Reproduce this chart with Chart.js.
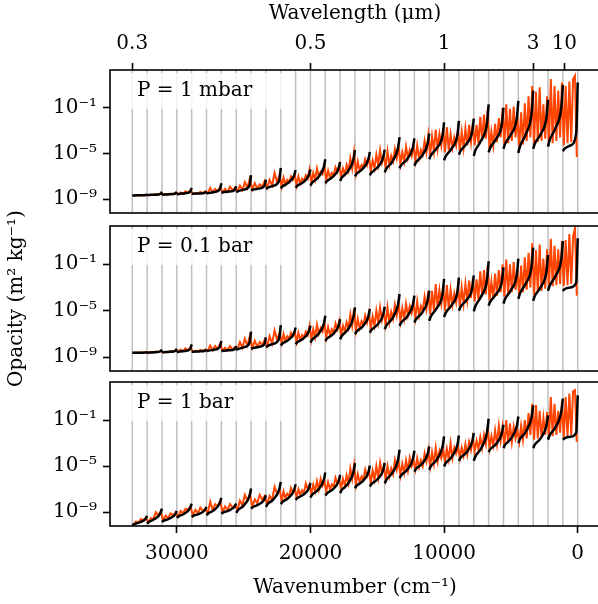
<!DOCTYPE html>
<html>
<head>
<meta charset="utf-8">
<script src="https://cdn.jsdelivr.net/npm/chart.js@4.4.1/dist/chart.umd.min.js"></script>
<style>
  html, body { margin: 0; padding: 0; background: #fff; overflow: hidden; }
  #wrap { position: relative; width: 598px; height: 604px; overflow: hidden; }
  canvas { position: absolute; left: 0; }
</style>
</head>
<body>
<div id="wrap">
  <canvas id="p1" width="602" height="220" style="top:0"></canvas>
  <canvas id="p3" width="602" height="228" style="top:376px"></canvas>
  <canvas id="p2" width="602" height="400" style="top:100px"></canvas>
</div>
<script>
// bin edges in wavenumber (cm-1), 30 bins from 0 to 1e4/0.3
const BIN_EDGES = [0, 1111, 2222, 3333, 4444, 5556, 6667, 7778, 8889, 10000,
  11111, 12222, 13333, 14444, 15556, 16667, 17778, 18889, 20000, 21111,
  22222, 23333, 24444, 25556, 26667, 27778, 28889, 30000, 31111, 32222, 33333];

// cumulative probability points of the k-curves inside each bin
const G_POINTS = [0, 0.1, 0.5, 0.9, 1];

// log10 opacity of k-curves, one row per bin, left (33333) to right (0)
const K_1MBAR = [
  [-8.66, -8.66, -8.65, -8.63, -8.58], [-8.64, -8.63, -8.6, -8.52, -8.34],
  [-8.6, -8.59, -8.56, -8.5, -8.34], [-8.58, -8.55, -8.49, -8.35, -8.0],
  [-8.52, -8.51, -8.49, -8.43, -8.3], [-8.5, -8.46, -8.37, -8.14, -7.6],
  [-8.42, -8.39, -8.33, -8.19, -7.85], [-8.38, -8.31, -8.16, -7.79, -6.9],
  [-8.2, -8.16, -8.07, -7.84, -7.3], [-8.1, -8.01, -7.82, -7.36, -6.25],
  [-8.05, -7.89, -7.57, -6.93, -6.45], [-8.0, -7.84, -7.52, -6.88, -6.4],
  [-7.8, -7.57, -7.11, -6.19, -5.5], [-7.6, -7.42, -7.05, -6.31, -5.75],
  [-7.4, -7.13, -6.59, -5.51, -4.7], [-7.0, -6.79, -6.36, -5.51, -4.87],
  [-6.9, -6.68, -6.23, -5.33, -4.66], [-6.65, -6.34, -5.73, -4.49, -3.57],
  [-6.3, -6.04, -5.51, -4.47, -3.68], [-6.07, -5.79, -5.22, -4.1, -3.25],
  [-5.5, -5.18, -4.53, -3.41, -2.28], [-5.6, -5.26, -4.57, -3.36, -2.15],
  [-5.1, -4.79, -4.16, -3.05, -1.95], [-5.2, -4.75, -3.85, -2.28, -0.7],
  [-4.9, -4.51, -3.73, -2.37, -1.0], [-4.6, -4.18, -3.34, -1.87, -0.4],
  [-4.95, -4.41, -3.32, -1.41, 0.5], [-4.6, -4.17, -3.31, -1.81, -0.3],
  [-4.4, -3.86, -2.78, -0.89, 1.0], [-4.8, -4.6, -4.3, -3.2, 1.2]
];
const K_01BAR = [
  [-8.63, -8.63, -8.62, -8.61, -8.57], [-8.62, -8.61, -8.58, -8.51, -8.34],
  [-8.6, -8.58, -8.55, -8.47, -8.28], [-8.58, -8.55, -8.48, -8.31, -7.9],
  [-8.54, -8.53, -8.51, -8.46, -8.34], [-8.5, -8.46, -8.37, -8.14, -7.61],
  [-8.48, -8.46, -8.42, -8.31, -8.05], [-8.4, -8.32, -8.16, -7.76, -6.8],
  [-8.28, -8.23, -8.13, -7.89, -7.3], [-8.14, -8.05, -7.86, -7.38, -6.25],
  [-8.0, -7.85, -7.54, -6.92, -6.45], [-7.9, -7.74, -7.42, -6.78, -6.3],
  [-7.76, -7.53, -7.06, -6.14, -5.44], [-7.61, -7.42, -7.05, -6.29, -5.73],
  [-7.47, -7.2, -6.65, -5.55, -4.72], [-7.03, -6.81, -6.38, -5.51, -4.86],
  [-6.89, -6.67, -6.22, -5.33, -4.66], [-6.6, -6.3, -5.69, -4.47, -3.56],
  [-6.31, -6.05, -5.53, -4.48, -3.7], [-6.02, -5.75, -5.2, -4.1, -3.27],
  [-5.88, -5.52, -4.79, -3.52, -2.25], [-5.55, -5.21, -4.53, -3.35, -2.16],
  [-5.0, -4.7, -4.09, -3.02, -1.96], [-5.06, -4.63, -3.76, -2.25, -0.74],
  [-4.57, -4.24, -3.58, -2.43, -1.27], [-4.4, -4.01, -3.23, -1.87, -0.51],
  [-3.99, -3.55, -2.66, -1.11, 0.44], [-4.15, -3.76, -2.97, -1.58, -0.2],
  [-3.3, -2.87, -2.01, -0.5, 1.0], [-3.3, -3.15, -3.0, -2.6, 1.25]
];
const K_1BAR = [
  [-10.14, -10.06, -9.89, -9.57, -9.32], [-9.99, -9.86, -9.6, -9.08, -8.69],
  [-9.85, -9.75, -9.56, -9.18, -8.89], [-9.5, -9.38, -9.13, -8.63, -8.25],
  [-9.41, -9.32, -9.15, -8.8, -8.54], [-9.27, -9.12, -8.82, -8.21, -7.76],
  [-9.12, -9.03, -8.86, -8.51, -8.25], [-9.06, -8.85, -8.43, -7.58, -6.95],
  [-8.69, -8.57, -8.34, -7.88, -7.53], [-8.54, -8.32, -7.89, -7.02, -6.37],
  [-8.3, -8.13, -7.78, -7.09, -6.57], [-7.93, -7.79, -7.5, -6.92, -6.48],
  [-7.73, -7.51, -7.08, -6.2, -5.55], [-7.56, -7.38, -7.02, -6.3, -5.76],
  [-7.35, -7.09, -6.57, -5.52, -4.74], [-6.92, -6.72, -6.33, -5.54, -4.95],
  [-6.77, -6.57, -6.16, -5.35, -4.74], [-6.5, -6.21, -5.62, -4.46, -3.58],
  [-6.05, -5.81, -5.34, -4.38, -3.67], [-5.47, -5.25, -4.82, -3.94, -3.29],
  [-5.32, -5.03, -4.45, -3.29, -2.42], [-5.03, -4.76, -4.22, -3.15, -2.34],
  [-4.54, -4.3, -3.82, -2.85, -2.13], [-4.54, -4.18, -3.45, -1.99, -0.89],
  [-3.79, -3.55, -3.08, -2.12, -1.41], [-3.44, -3.17, -2.62, -1.52, -0.69],
  [-3.0, -2.67, -2.02, -0.71, 0.27], [-3.44, -3.16, -2.59, -1.45, -0.6],
  [-2.71, -2.35, -1.64, -0.22, 0.85], [-2.71, -2.6, -2.45, -2.1, 1.14]
];

// line-by-line opacity, log10, samples spread evenly over each bin, left to right
const LBL_1MBAR = [
  [-8.66, -8.64, -8.66, -8.63, -8.65, -8.62], [-8.64, -8.6, -8.63, -8.55, -8.6, -8.5],
  [-8.6, -8.55, -8.59, -8.5, -8.57, -8.45], [-8.56, -8.4, -8.52, -8.3, -8.45, -8.2],
  [-8.52, -8.45, -8.5, -8.35, -8.48, -8.3], [-8.45, -8.0, -8.4, -8.1, -8.3, -7.9],
  [-8.4, -8.1, -8.35, -7.9, -8.2, -8.0], [-8.3, -7.8, -8.2, -7.5, -8.0, -7.2],
  [-8.15, -7.6, -8.05, -7.7, -7.9, -7.4], [-8.0, -7.3, -7.8, -6.7, -7.5, -6.9],
  [-7.9, -7.1, -7.7, -7.3, -7.5, -7.0, -7.3, -6.8],
  [-7.8, -7.0, -7.6, -7.2, -7.4, -6.9, -7.2, -6.4],
  [-7.5, -6.7, -7.3, -6.3, -7.0, -6.6, -6.8, -6.0],
  [-7.3, -6.5, -7.1, -6.7, -6.9, -6.2, -6.6, -6.0],
  [-7.0, -6.3, -6.8, -6.0, -6.5, -5.4, -6.3, -4.9],
  [-6.7, -5.7, -6.5, -6.0, -6.2, -5.5, -6.0, -5.3],
  [-6.5, -5.6, -6.3, -5.1, -6.0, -4.7, -5.8, -5.2],
  [-6.2, -4.8, -6.0, -5.2, -5.7, -4.6, -5.4, -4.4],
  [-5.9, -4.9, -5.7, -4.4, -5.4, -4.7, -5.2, -4.3],
  [-5.6, -4.3, -5.4, -4.7, -5.1, -3.9, -4.9, -3.4],
  [-5.1, -3.5, -4.8, -2.9, -4.6, -3.3, -4.3, -2.8],
  [-4.9, -2.7, -4.7, -3.3, -4.5, -3.6, -4.3, -2.9],
  [-4.7, -3.1, -4.5, -2.8, -4.3, -2.5, -4.0, -2.3],
  [-4.3, -2.5, -4.1, -1.8, -3.9, -1.6, -3.7, -1.1],
  [-4.6, -3.1, -4.3, -2.4, -4.0, -1.9, -3.6, -1.0],
  [-4.3, -0.7, -4.1, -1.1, -3.9, -0.9, -3.6, -1.8],
  [-4.5, -1.4, -4.2, -0.6, -3.9, 0.0, -3.6, 0.9],
  [-4.2, 0.4, -4.0, 0.8, -3.9, -0.7, -3.7, 0.0],
  [-4.3, 1.5, -4.1, 0.9, -3.9, 0.5, -3.6, 1.2],
  [-4.3, 0.9, -4.1, 1.3, -4.0, 1.5, 1.8, -5.3]
];
const LBL_01BAR = [
  [-8.63, -8.61, -8.63, -8.6, -8.62, -8.59], [-8.62, -8.57, -8.6, -8.52, -8.57, -8.48],
  [-8.6, -8.54, -8.58, -8.48, -8.55, -8.42], [-8.55, -8.35, -8.5, -8.25, -8.42, -8.15],
  [-8.53, -8.45, -8.51, -8.38, -8.48, -8.35], [-8.46, -8.0, -8.4, -8.05, -8.3, -7.85],
  [-8.46, -8.2, -8.4, -8.05, -8.35, -8.15], [-8.3, -7.7, -8.2, -7.4, -8.0, -7.2],
  [-8.2, -7.6, -8.1, -7.7, -7.95, -7.5], [-8.05, -7.2, -7.85, -6.7, -7.5, -6.9],
  [-7.8, -7.0, -7.6, -7.2, -7.4, -6.9, -7.2, -6.8],
  [-7.7, -6.9, -7.5, -7.1, -7.3, -6.8, -7.1, -6.3],
  [-7.5, -6.6, -7.3, -6.2, -7.0, -6.5, -6.8, -6.0],
  [-7.3, -6.4, -7.1, -6.6, -6.9, -6.1, -6.6, -5.9],
  [-7.1, -6.3, -6.8, -6.0, -6.5, -5.3, -6.3, -4.8],
  [-6.7, -5.7, -6.5, -5.9, -6.2, -5.4, -6.0, -5.2],
  [-6.5, -5.5, -6.3, -5.0, -6.0, -4.7, -5.8, -5.1],
  [-6.2, -4.7, -6.0, -5.1, -5.7, -4.5, -5.4, -4.3],
  [-5.9, -4.8, -5.7, -4.4, -5.4, -4.6, -5.2, -4.3],
  [-5.6, -4.2, -5.4, -4.6, -5.0, -3.8, -4.8, -3.3],
  [-5.3, -3.3, -5.0, -2.7, -4.7, -3.2, -4.4, -2.9],
  [-5.0, -2.8, -4.8, -3.2, -4.5, -3.5, -4.3, -2.9],
  [-4.6, -3.0, -4.4, -2.7, -4.1, -2.4, -3.9, -2.2],
  [-4.2, -2.3, -4.0, -1.6, -3.8, -1.5, -3.6, -1.1],
  [-4.1, -2.5, -3.9, -1.8, -3.7, -1.5, -3.4, -1.0],
  [-3.8, -0.6, -3.6, -1.0, -3.4, -0.8, -3.2, -1.5],
  [-3.6, -1.1, -3.4, -0.4, -3.2, 0.0, -3.0, 0.8],
  [-3.6, 0.2, -3.4, 0.7, -3.3, -0.5, -3.1, 0.3],
  [-3.0, 1.2, -2.9, 0.6, -2.8, 0.3, -2.7, 1.0],
  [-2.9, 1.1, -2.8, 1.6, -2.7, 1.4, 2.1, -3.7]
];
const LBL_1BAR = [
  [-10.1, -9.8, -9.9, -9.6, -9.7, -9.5], [-9.9, -9.5, -9.6, -9.0, -9.3, -8.9],
  [-9.7, -9.3, -9.5, -9.1, -9.3, -9.0], [-9.4, -8.9, -9.1, -8.7, -8.8, -8.5],
  [-9.3, -8.8, -9.1, -8.6, -8.9, -8.7], [-9.1, -8.1, -8.8, -8.3, -8.5, -8.0],
  [-9.0, -8.5, -8.8, -8.3, -8.6, -8.4], [-8.8, -8.0, -8.4, -7.5, -8.0, -7.4],
  [-8.5, -7.9, -8.2, -7.5, -7.9, -7.6], [-8.3, -7.6, -7.9, -6.8, -7.4, -7.0],
  [-8.0, -7.2, -7.8, -7.4, -7.6, -6.9, -7.3, -7.0],
  [-7.7, -7.0, -7.5, -7.1, -7.3, -6.5, -7.0, -6.6],
  [-7.4, -6.6, -7.2, -6.3, -7.0, -6.1, -6.7, -6.3],
  [-7.2, -6.4, -7.0, -6.6, -6.8, -6.0, -6.5, -6.2],
  [-6.9, -6.1, -6.7, -5.8, -6.5, -5.2, -6.1, -4.9],
  [-6.6, -5.7, -6.4, -5.9, -6.2, -5.3, -5.9, -5.5],
  [-6.4, -5.4, -6.2, -5.0, -6.0, -4.7, -5.6, -5.0],
  [-6.1, -5.0, -5.9, -5.2, -5.7, -4.5, -5.3, -4.6],
  [-5.8, -4.8, -5.6, -4.5, -5.4, -4.3, -5.0, -4.5],
  [-5.3, -4.3, -5.1, -4.5, -5.0, -3.9, -4.6, -3.6],
  [-5.0, -3.8, -4.8, -3.4, -4.6, -3.7, -4.3, -3.6],
  [-4.6, -3.5, -4.4, -3.0, -4.3, -3.4, -3.9, -3.3],
  [-4.3, -3.4, -4.1, -3.1, -4.0, -2.9, -3.6, -2.6],
  [-3.7, -2.8, -3.5, -2.5, -3.4, -2.3, -3.1, -1.6],
  [-3.4, -2.4, -3.2, -1.9, -3.1, -1.5, -2.8, -1.6],
  [-3.2, -1.0, -3.0, -1.3, -2.9, -1.6, -2.6, -1.9],
  [-2.9, -1.5, -2.7, -1.0, -2.6, -0.4, -2.3, 0.4],
  [-2.7, 0.3, -2.6, -0.2, -2.5, -0.8, -2.3, -0.3],
  [-2.5, 1.0, -2.4, 0.4, -2.3, -0.2, -2.1, 0.6],
  [-2.5, 1.0, -2.4, 1.3, -2.3, 1.5, 1.6, -2.9]
];

const PANEL_LABELS = ['P = 1 mbar', 'P = 0.1 bar', 'P = 1 bar'];
const WL_TICKS = [0.3, 0.5, 1, 3, 10];
const WL_LABELS = ['0.3', '0.5', '1', '3', '10'];
const WN_TICKS = [30000, 20000, 10000, 0];
const WN_LABELS = ['30000', '20000', '10000', '0'];
const Y_TICKS = [1e-9, 1e-5, 1e-1];
const Y_LABELS = ['10⁻⁹', '10⁻⁵', '10⁻¹'];
const X_MIN = -1667, X_MAX = 35000;
const Y_LOG_MIN = -10.2, Y_LOG_MAX = 2.3;

const FONT = "'DejaVu Serif', serif";
Chart.defaults.font.family = FONT;
Chart.defaults.font.size = 20;
Chart.defaults.color = '#000';

const pow10 = v => Math.pow(10, v);

function edgeLines() {
  const pts = [];
  BIN_EDGES.forEach(e => pts.push({x: e, y: 1e-14}, {x: e, y: 1e5}, {x: e, y: null}));
  return pts;
}

function kCurve(rows) {
  const pts = [];
  rows.forEach((row, b) => {
    const hi = BIN_EDGES[30 - b], lo = BIN_EDGES[29 - b];
    row.forEach((v, k) => pts.push({x: hi - G_POINTS[k] * (hi - lo), y: pow10(v)}));
    pts.push({x: lo, y: null});
  });
  return pts;
}

function spectrum(rows) {
  const pts = [];
  rows.forEach((row, b) => {
    const hi = BIN_EDGES[30 - b], lo = BIN_EDGES[29 - b], n = row.length;
    row.forEach((v, k) => pts.push({x: hi - (k + 0.5) / n * (hi - lo), y: pow10(v)}));
  });
  return pts;
}

const frame = {
  id: 'frame',
  afterDraw(chart) {
    const {ctx, chartArea: a} = chart;
    ctx.save();
    ctx.strokeStyle = '#000';
    ctx.lineWidth = 1.6;
    ctx.strokeRect(a.left, a.top, a.right - a.left, a.bottom - a.top);
    ctx.restore();
  }
};

const labelBox = {
  id: 'labelBox',
  afterDatasetsDraw(chart, args, opts) {
    const {ctx, chartArea: a} = chart;
    ctx.save();
    ctx.fillStyle = 'rgba(255,255,255,0.8)';
    ctx.beginPath();
    ctx.roundRect(a.left + 8, a.top + 3, 172, 36, 4);
    ctx.fill();
    ctx.fillStyle = '#000';
    ctx.font = '20px ' + FONT;
    ctx.textBaseline = 'middle';
    ctx.fillText(opts.text, a.left + 27, a.top + 21);
    ctx.restore();
  }
};

const tickGrid = { drawOnChartArea: false, tickLength: 7, tickWidth: 1.6, color: '#000' };

const xRange = { type: 'linear', reverse: true, min: X_MIN, max: X_MAX };

const xTop = {
  ...xRange, position: 'top',
  afterBuildTicks: s => { s.ticks = WL_TICKS.map(w => ({value: 1e4 / w})); },
  afterFit: s => { s.height = 70; s.paddingLeft = 0; s.paddingRight = 0; },
  ticks: { callback: (v, i) => WL_LABELS[i], padding: 7, maxRotation: 0, autoSkip: false },
  grid: tickGrid,
  border: { display: false },
  title: { display: true, text: 'Wavelength (μm)', padding: {top: 2, bottom: 0} }
};

const xBottom = {
  ...xRange, position: 'bottom',
  afterBuildTicks: s => { s.ticks = WN_TICKS.map(v => ({value: v})); },
  afterFit: s => { s.height = 78; s.paddingLeft = 0; s.paddingRight = 0; },
  ticks: { callback: (v, i) => WN_LABELS[i], padding: 9, maxRotation: 0, autoSkip: false },
  grid: tickGrid,
  border: { display: false },
  title: { display: true, text: 'Wavenumber (cm⁻¹)', padding: {top: 0, bottom: 4} }
};

function yAxis(title) {
  return {
    type: 'logarithmic',
    min: pow10(Y_LOG_MIN), max: pow10(Y_LOG_MAX),
    afterBuildTicks: s => { s.ticks = Y_TICKS.map(v => ({value: v})); },
    afterFit: s => { s.width = 110; s.paddingTop = 0; s.paddingBottom = 0; },
    ticks: { callback: (v, i) => Y_LABELS[i], padding: 6, autoSkip: false },
    grid: tickGrid,
    border: { display: false },
    title: { display: !!title, text: title || '', padding: {top: 5, bottom: 0} }
  };
}

function makePanel(id, kRows, lbl, label, xAxis, yTitle, padding) {
  return new Chart(document.getElementById(id), {
    type: 'line',
    data: {
      datasets: [
        { data: edgeLines(), borderColor: 'rgba(0,0,0,0.25)', borderWidth: 1.5, order: 3 },
        { data: spectrum(lbl), borderColor: '#ff4500', borderWidth: 2, order: 2 },
        { data: kCurve(kRows), borderColor: '#000', borderWidth: 2.5,
          cubicInterpolationMode: 'monotone', order: 1 }
      ]
    },
    options: {
      responsive: false,
      animation: false,
      events: [],
      layout: { padding },
      elements: { point: { radius: 0 } },
      plugins: { legend: { display: false }, tooltip: { enabled: false }, labelBox: { text: label } },
      scales: { x: xAxis, y: yAxis(yTitle) }
    },
    plugins: [frame, labelBox]
  });
}

makePanel('p1', K_1MBAR, LBL_1MBAR, PANEL_LABELS[0], xTop, null,
  {top: 0, bottom: 7, left: 0, right: 2});
// middle panel canvas is taller so that the shared y-axis title fits
makePanel('p2', K_01BAR, LBL_01BAR, PANEL_LABELS[1], {...xRange, display: false},
  'Opacity (m² kg⁻¹)', {top: 126, bottom: 129, left: 0, right: 2});
makePanel('p3', K_1BAR, LBL_1BAR, PANEL_LABELS[2], xBottom, null,
  {top: 6, bottom: 0, left: 0, right: 2});
</script>
</body>
</html>
